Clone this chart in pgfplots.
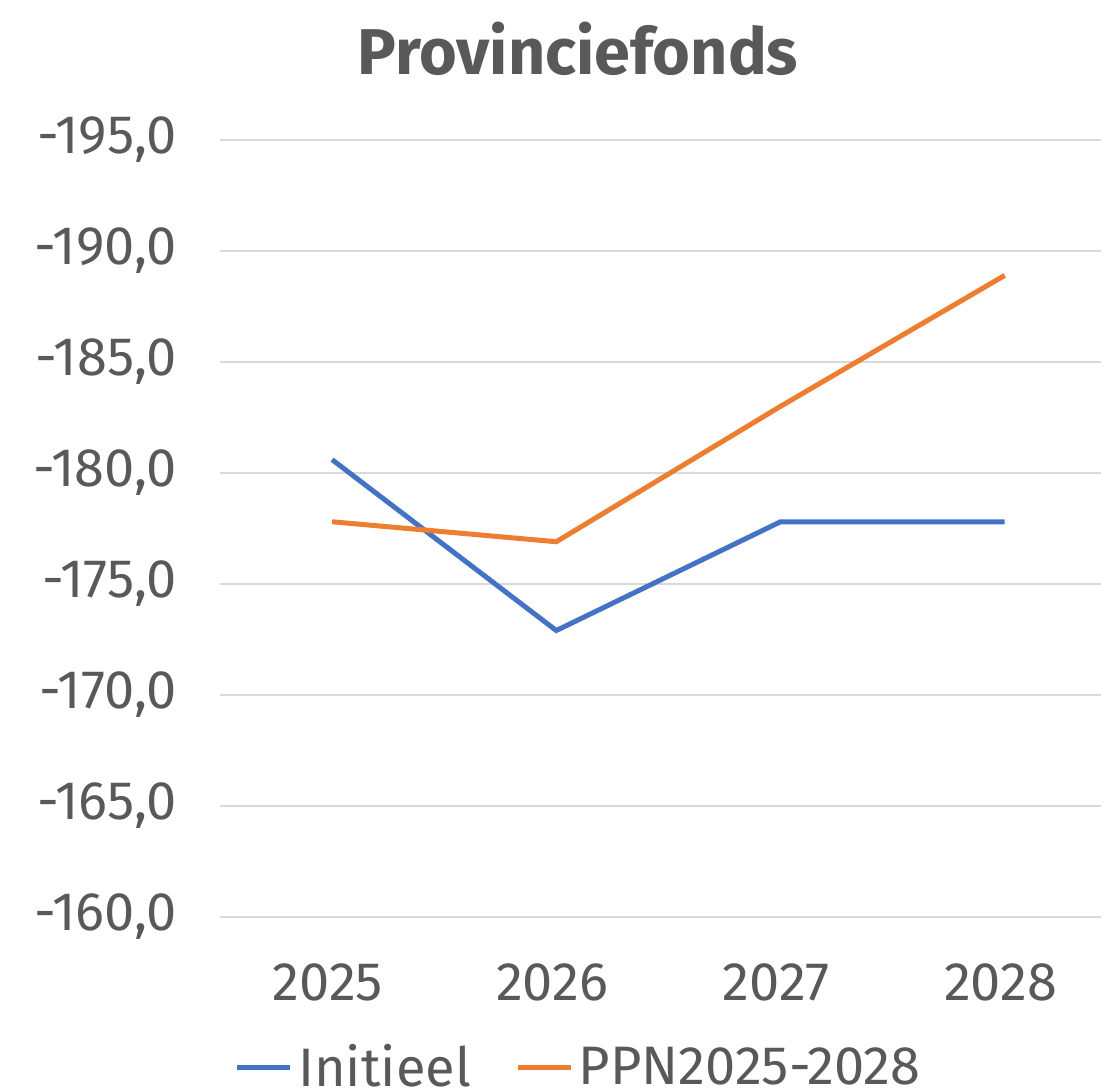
\documentclass[border=0pt]{standalone}
\usepackage{pgfplots}
\pgfplotsset{compat=1.18}
\usepackage{fontspec}
\setmainfont{Fira Sans}
\usetikzlibrary{calc}
\definecolor{txt}{HTML}{595959}
\definecolor{gridc}{HTML}{D9D9D9}
\definecolor{cblue}{HTML}{4472C4}
\definecolor{corange}{HTML}{ED7D31}
\begin{document}
\begin{tikzpicture}
\begin{axis}[
  name=ax,
  scale only axis,
  width=322.9bp, height=279.7bp,
  xmin=-0.5, xmax=3.5,
  ymin=-195, ymax=-160,
  y dir=reverse,
  axis line style={draw=none},
  major tick length=0pt,
  xtick={0,1,2,3},
  xticklabels={2025,2026,2027,2028},
  ytick={-195,-190,-185,-180,-175,-170,-165,-160},
  yticklabels={{-195,0},{-190,0},{-185,0},{-180,0},{-175,0},{-170,0},{-165,0},{-160,0}},
  ymajorgrids,
  grid style={gridc, line width=0.75bp},
  tick label style={font=\fontsize{19.5bp}{23bp}\selectfont, text=txt},
  xticklabel style={yshift=-13.5bp, xshift=-1.5bp},
  yticklabel style={xshift=-12bp},
  clip=false,
  legend columns=2,
  legend style={draw=none, fill=none, at={(0.402,-0.194)}, anchor=center,
    font=\fontsize{19.5bp}{23bp}\selectfont, text=txt,
    /tikz/every even column/.append style={column sep=14bp}},
  legend image code/.code={\draw[#1, line width=1.8bp] (0bp,0bp) -- (19bp,0bp);},
]
\addplot[cblue, line width=1.8bp] coordinates {(0,-180.6) (1,-172.9) (2,-177.8) (3,-177.8)};
\addlegendentry{Initieel}
\addplot[corange, line width=1.8bp] coordinates {(0,-177.8) (1,-176.9) (2,-183.0) (3,-188.9)};
\addlegendentry{PPN2025-2028}
\end{axis}
\node[anchor=base, text=txt, font=\fontsize{23.3bp}{27bp}\selectfont\bfseries] at ($(ax.south west)+(128.9bp,303.1bp)$) {Provinciefonds};
\pgfresetboundingbox
\path[use as bounding box] ($(ax.south west)+(-79.2bp,-62.3bp)$) rectangle ($(ax.south west)+(317.2bp,330.1bp)$);
\end{tikzpicture}
\end{document}
